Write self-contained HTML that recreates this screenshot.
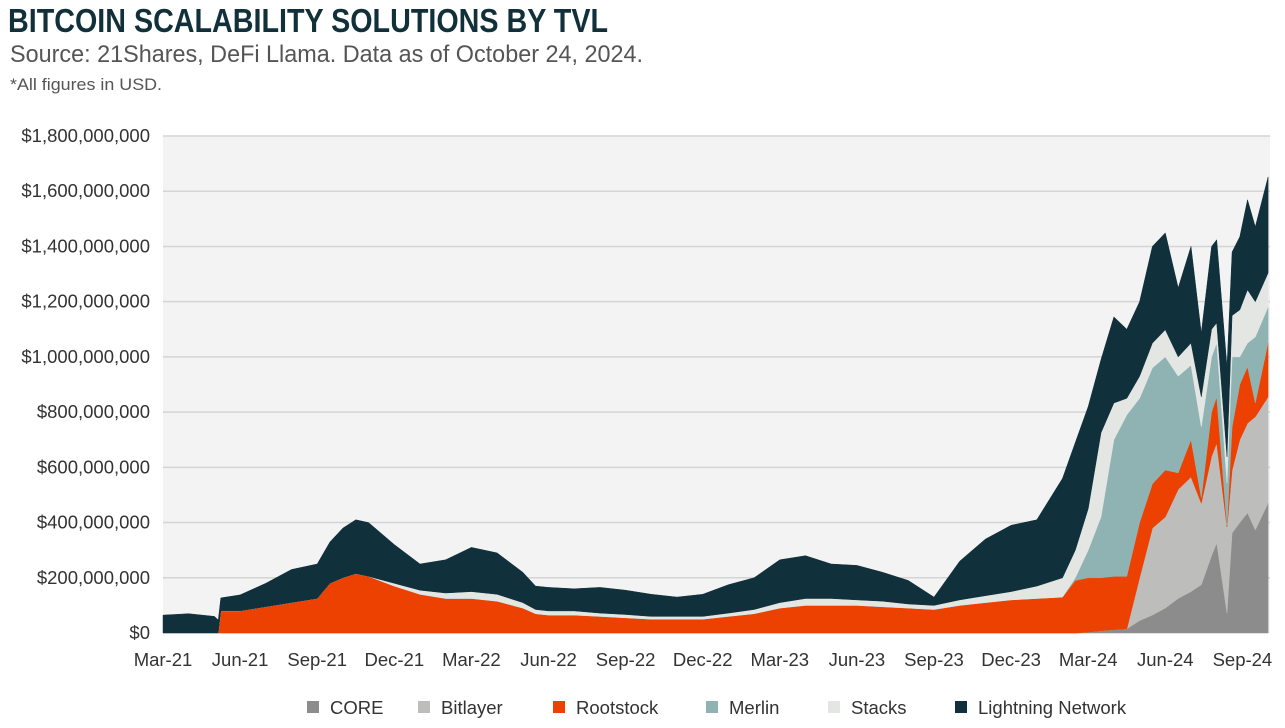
<!DOCTYPE html>
<html><head><meta charset="utf-8">
<style>
html,body{margin:0;padding:0;background:#fff;}
svg{display:block;font-family:"Liberation Sans",sans-serif;}
</style></head>
<body>
<svg id="chart" width="1285" height="728" viewBox="0 0 1285 728" xmlns="http://www.w3.org/2000/svg">
  <text x="8" y="32" font-family="'Liberation Sans Narrow','Liberation Sans',sans-serif" font-weight="bold" font-size="33" fill="#12303a" textLength="600" lengthAdjust="spacingAndGlyphs">BITCOIN SCALABILITY SOLUTIONS BY TVL</text>
  <text x="10" y="62" font-size="24" fill="#555" textLength="633" lengthAdjust="spacingAndGlyphs">Source: 21Shares, DeFi Llama. Data as of October 24, 2024.</text>
  <text x="10" y="90" font-size="17" fill="#555" textLength="152" lengthAdjust="spacingAndGlyphs">*All figures in USD.</text>
  <rect x="163" y="136" width="1107" height="497" fill="#f3f3f3"/>
  <g id="grid"></g>
  <g id="areas"></g>
  <g id="yaxis"></g>
  <g id="xaxis"></g>
  <g id="legend"></g>
</svg>
<script>
// months since Mar-2021
const months = [0,1,2,2.15,2.25,3,4,5,6,6.5,7,7.5,8,9,10,11,12,13,14,14.5,15,16,17,18,19,20,21,22,23,24,25,26,27,28,29,30,31,32,33,34,35,35.5,36,36.5,37,37.5,38,38.5,39,39.5,40,40.4,40.8,41,41.4,41.6,41.9,42.2,42.5,43];
// values in $M
const core      = [0,0,0,0,0,0,0,0,0,0,0,0,0,0,0,0,0,0,0,0,0,0,0,0,0,0,0,0,0,0,0,0,0,0,0,0,0,0,0,0,0,0,3,8,12,15,45,65,90,125,150,175,280,326,72,362,400,435,373,471];
const bitlayer  = [0,0,0,0,0,0,0,0,0,0,0,0,0,0,0,0,0,0,0,0,0,0,0,0,0,0,0,0,0,0,0,0,0,0,0,0,0,0,0,0,0,0,0,0,0,0,155,315,330,395,415,295,360,362,312,228,300,325,410,384];
const rootstock = [0,0,0,0,80,80,95,110,125,180,200,215,205,170,140,125,125,115,90,70,65,65,60,55,50,50,50,60,70,90,100,100,100,95,90,85,100,110,120,125,130,190,197,192,193,190,200,160,170,60,135,20,160,167,6,156,200,204,50,196];
const merlin    = [0,0,0,0,0,0,0,0,0,0,0,0,0,0,0,0,0,0,0,0,0,0,0,0,0,0,0,0,0,0,0,0,0,0,0,0,0,0,0,0,0,10,100,220,495,585,450,420,410,350,270,256,200,196,153,254,100,86,239,130];
const stacks    = [0,0,0,0,0,0,0,0,0,0,0,0,0,10,15,20,25,25,20,15,15,15,12,12,10,10,10,12,15,20,25,25,20,20,15,15,20,25,30,45,70,100,150,305,133,60,80,90,98,70,80,109,100,72,95,150,170,193,128,123];
const lightning = [65,70,60,47,47,58,85,120,125,150,180,195,195,140,95,120,160,150,110,85,85,80,93,88,80,70,80,103,115,155,155,125,125,105,85,30,140,205,240,240,360,390,370,265,312,250,270,350,351,250,350,232,300,301,326,230,265,326,271,348];
const seriesNames = ["CORE","Bitlayer","Rootstock","Merlin","Stacks","Lightning Network"];
const yTicks = [0,200,400,600,800,1000,1200,1400,1600,1800];
const yTickLabels = ["$0","$200,000,000","$400,000,000","$600,000,000","$800,000,000","$1,000,000,000","$1,200,000,000","$1,400,000,000","$1,600,000,000","$1,800,000,000"];
const xTicks = [0,3,6,9,12,15,18,21,24,27,30,33,36,39,42];
const xTickLabels = ["Mar-21","Jun-21","Sep-21","Dec-21","Mar-22","Jun-22","Sep-22","Dec-22","Mar-23","Jun-23","Sep-23","Dec-23","Mar-24","Jun-24","Sep-24"];

const NS="http://www.w3.org/2000/svg";
const colors=["#8c8c8c","#bdbdbb","#ec4100","#8fb3b3","#e4e6e4","#10303b"];
const X0=163,X1=1270,Y0=633,Y1=136;
function xs(t){return X0+t*25.7;}
function ys(v){return Y0-(v/1800)*(Y0-Y1);}
function mk(tag,attrs,parent){const e=document.createElementNS(NS,tag);for(const k in attrs)e.setAttribute(k,attrs[k]);parent.appendChild(e);return e;}

const grid=document.getElementById('grid');
const yax=document.getElementById('yaxis');
yTicks.forEach((v,i)=>{
  if(v>0){const l=mk('line',{x1:X0,x2:X1,y1:ys(v),y2:ys(v),stroke:'#d4d4d4','stroke-width':1.5},grid);
  
  }
  const t=mk('text',{x:150,y:ys(v)+6,'text-anchor':'end','font-size':18.5,fill:'#333'},yax);
  t.textContent=yTickLabels[i];
  
  
});
const xax=document.getElementById('xaxis');
xTicks.forEach((m,i)=>{
  const t=mk('text',{x:xs(m),y:666,'text-anchor':'middle','font-size':18.5,fill:'#333'},xax);
  t.textContent=xTickLabels[i];
  
  
});

const series=[core,bitlayer,rootstock,merlin,stacks,lightning];
const areas=document.getElementById('areas');
let base=months.map(()=>0);
series.forEach((s,si)=>{
  const top=base.map((b,i)=>b+s[i]);
  let d='M'+months.map((m,i)=>xs(m).toFixed(1)+','+ys(top[i]).toFixed(1)).join('L');
  for(let i=months.length-1;i>=0;i--) d+='L'+xs(months[i]).toFixed(1)+','+ys(base[i]).toFixed(1);
  d+='Z';
  const p=mk('path',{d:d,fill:colors[si],stroke:colors[si],'stroke-width':0.5},areas);
  
  
  base=top;
});

const leg=document.getElementById('legend');
const legX=[307,418,553,706,828,955];
seriesNames.forEach((n,i)=>{
  const g=mk('g',{},leg);
  
  
  mk('rect',{x:legX[i],y:701,width:12,height:12,fill:colors[i]},g);
  const t=mk('text',{x:legX[i]+23,y:714,'font-size':18.5,fill:'#333'},g);
  t.textContent=n;
});
</script>
</body></html>
